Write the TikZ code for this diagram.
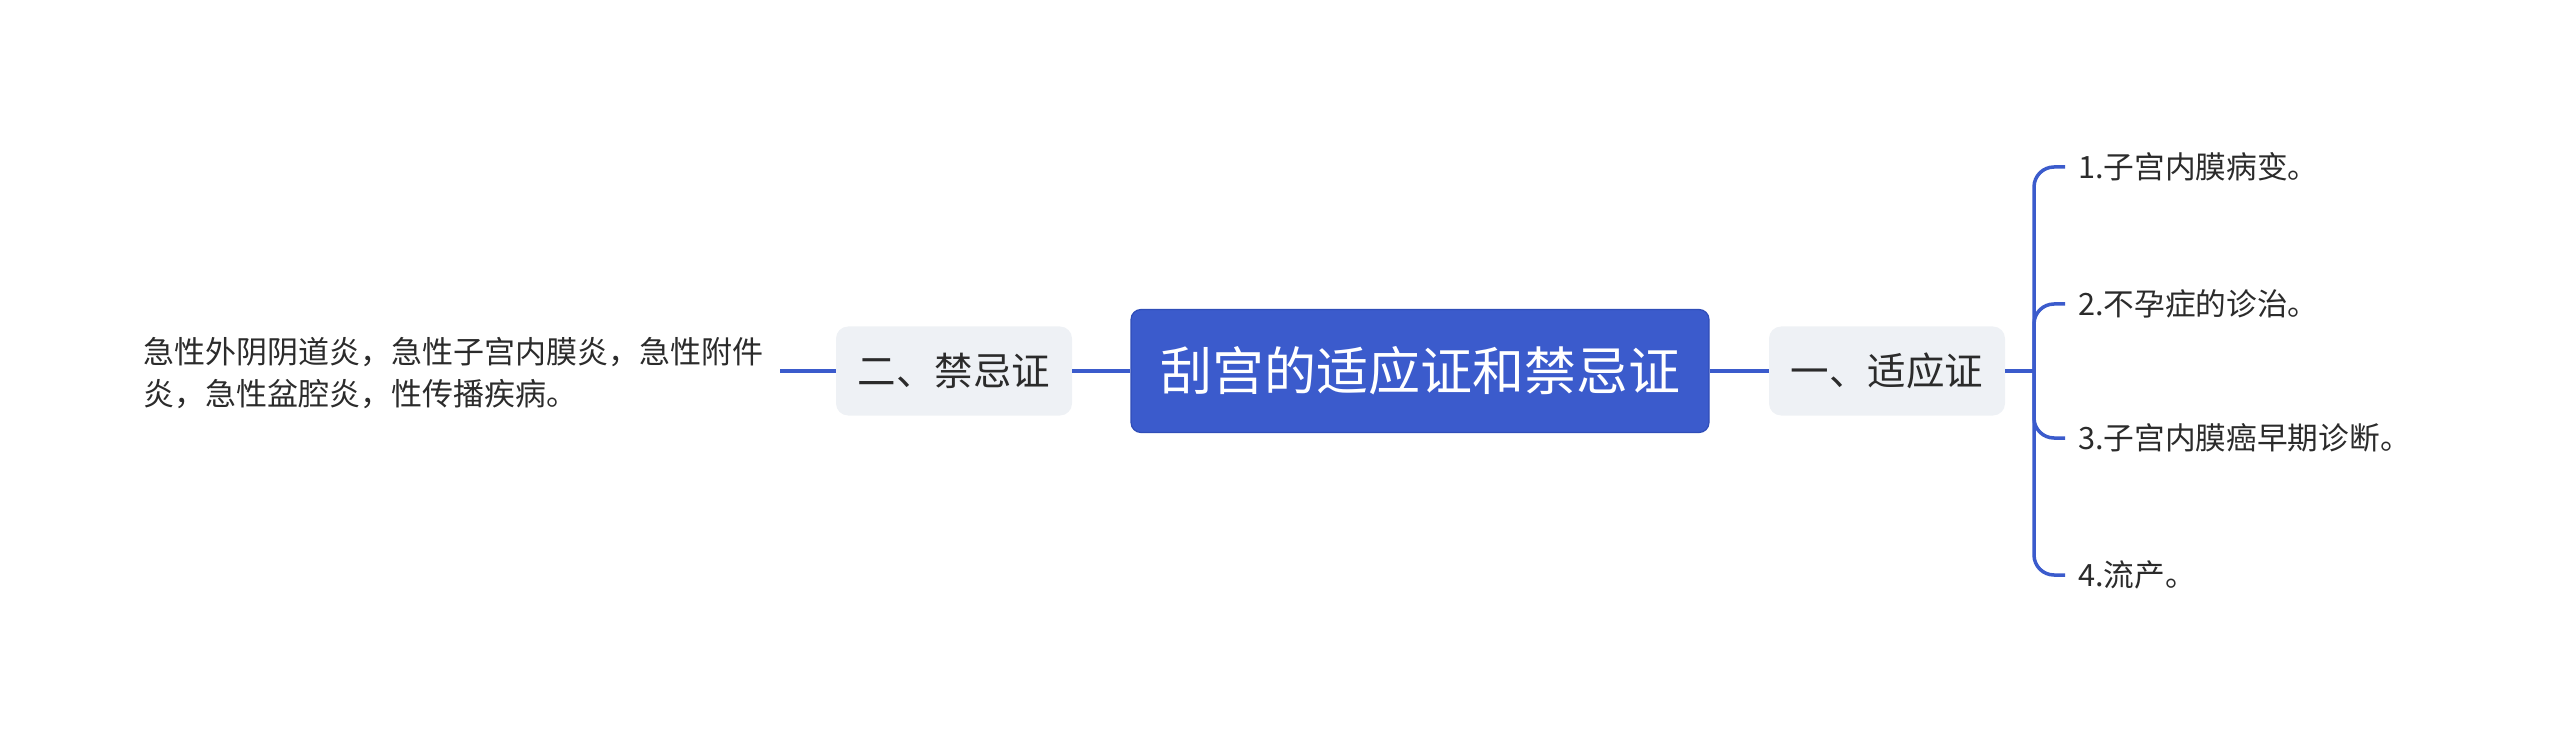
\documentclass[tikz,border=0pt]{standalone}
\usepackage{fontspec}
\setmainfont{Noto Sans CJK SC}
\definecolor{mainblue}{HTML}{3B5BCC}
\definecolor{mainborder}{HTML}{2F4DB8}
\definecolor{subfill}{HTML}{EEF1F5}
\definecolor{txt}{HTML}{2B2B2B}
\tikzset{
  rootbox/.style={fill=mainblue, draw=mainborder, line width=1.2pt, rounded corners=10pt,
    minimum width=578pt, minimum height=123pt, text=white, font=\fontsize{52}{60}\selectfont, inner sep=0pt},
  subbox/.style={fill=subfill, rounded corners=12pt, minimum width=236pt, minimum height=89pt,
    text=txt, font=\fontsize{38.5}{44}\selectfont, inner sep=0pt},
  leaf/.style={text=txt, font=\fontsize{30.7}{42}\selectfont, anchor=west, inner xsep=13pt, inner ysep=0pt},
  conn/.style={draw=mainblue, line width=3.5pt},
}
\begin{document}
\begin{tikzpicture}[x=1pt,y=-1pt]
\useasboundingbox (0,0) rectangle (2560,743);
\node[rootbox] (root) at (1420,371) {刮宫的适应证和禁忌证};
\node[subbox] (yes) at (1887,371) {一、适应证};
\node[subbox] (no) at (954,371) {二、禁忌证};
\node[text=txt, font=\fontsize{31}{42}\selectfont, align=left, anchor=east, inner xsep=16pt, inner ysep=0pt] (notxt) at (780,373)
  {急性外阴阴道炎，急性子宫内膜炎，急性附件\\炎，急性盆腔炎，性传播疾病。};
\node[leaf] (l1) at (2065,167) {1.子宫内膜病变。};
\node[leaf] (l2) at (2065,304) {2.不孕症的诊治。};
\node[leaf] (l3) at (2065,438) {3.子宫内膜癌早期诊断。};
\node[leaf] (l4) at (2065,575) {4.流产。};
\coordinate (j) at (2034,371);
\draw[conn] (root.east) -- (yes.west);
\draw[conn] (root.west) -- (no.east);
\draw[conn] (no.west) -- (notxt.east |- no.west);
\draw[conn] (yes.east) -- (j);
\foreach \l in {l1,l2,l3,l4}{
  \draw[conn, rounded corners=20pt] (j) |- (\l.west);
}
\end{tikzpicture}
\end{document}
